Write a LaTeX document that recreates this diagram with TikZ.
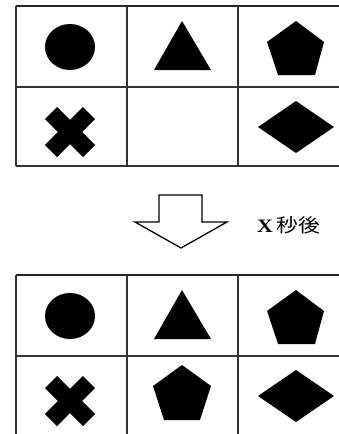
\documentclass[tikz,border=0pt]{standalone}
\usepackage{fontspec}
\setmainfont{Liberation Serif}
\newfontfamily\cjk{Noto Sans CJK JP}
\begin{document}
\begin{tikzpicture}[x=1pt,y=-1pt,
  gridline/.style={draw=black!80,line width=1.2pt},
  topline/.style={draw=black!85,line width=2pt},
  shp/.style={fill=black,draw=none},
  crossarm/.style={draw=black,line width=17pt,line cap=butt}]
\useasboundingbox (0,0) rectangle (339,434);
\begin{scope}
\clip (0,0) rectangle (339,434);
% ---- tables ----
\foreach \dy in {0,269}{
  \begin{scope}[yshift=-\dy pt]
  \draw[topline] (16,6) -- (350,6);
  \draw[gridline] (16,87) -- (350,87);
  \draw[gridline] (16,6) -- (16,166) (127,6) -- (127,166) (238,6) -- (238,166);
  % circle
  \fill[shp] (70,47) ellipse [x radius=25, y radius=23];
  % triangle
  \fill[shp] (182,21) -- (211,70) -- (154,70) -- cycle;
  % pentagon
  \fill[shp] (296,21) -- (324,42) -- (315,75) -- (278,75) -- (267,42) -- cycle;
  % cross
  \draw[crossarm] (51,113) -- (89,151);
  \draw[crossarm] (89,113) -- (51,151);
  % diamond
  \fill[shp] (258,127) -- (296,101) -- (334,127) -- (296,153) -- cycle;
  \end{scope}
}
\draw[gridline] (16,166) -- (350,166);
\end{scope}
% bottom middle pentagon
\fill[shp] (182,365) -- (211,386) -- (200,420) -- (164,420) -- (153,386) -- cycle;
% arrow
\draw[line width=1.3pt,line join=miter,fill=white]
  (159,195) -- (202,195) -- (202,222) -- (227,222) -- (181,248) -- (135,222) -- (159,222) -- cycle;
\node[anchor=west,inner sep=0pt,xscale=1.15,font=\fontsize{19}{19}\selectfont] (lbl) at (257,225) {\textbf{X}\,{\cjk 秒後}};
\end{tikzpicture}
\end{document}
